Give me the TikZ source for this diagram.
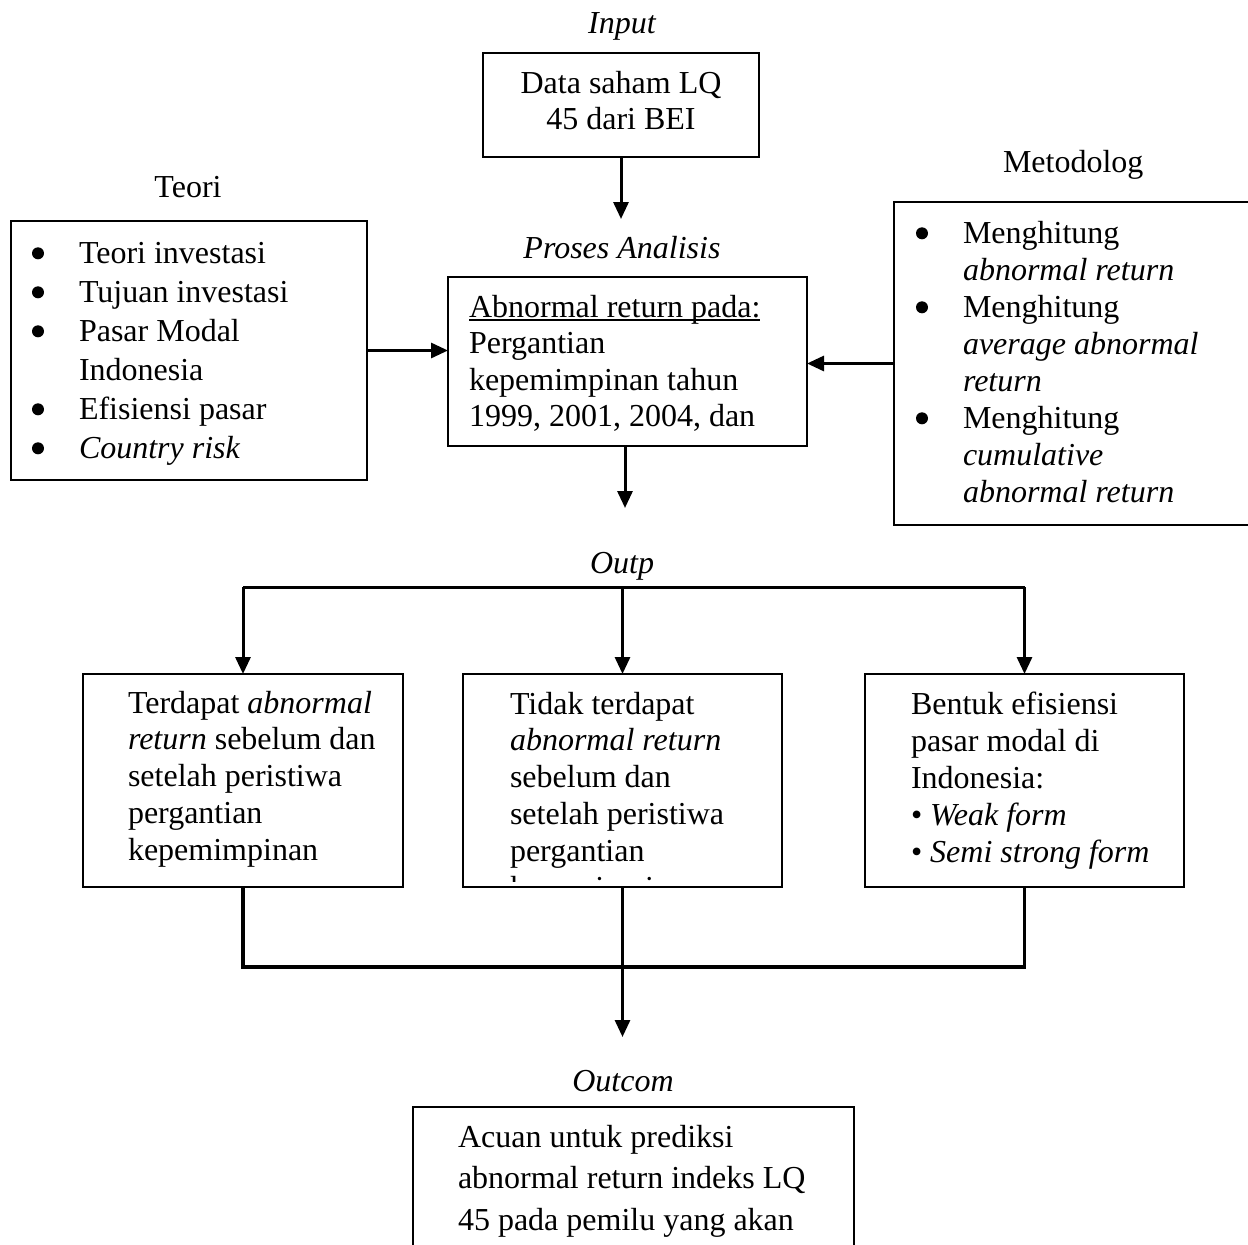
\documentclass[tikz,border=0pt]{standalone}
\usepackage{fontspec}
\setmainfont{Liberation Serif}
\usetikzlibrary{arrows.meta}
\newcommand\ulx[1]{\sbox0{#1}\rlap{\rule[-3.5pt]{\wd0}{1.5pt}}\usebox0}
\begin{document}
\begin{tikzpicture}[x=1pt,y=-1pt,
  box/.style={draw, line width=2pt, inner sep=0pt, outer sep=0pt},
  conn/.style={line width=3pt},
  arr/.style={conn, -{Triangle[length=17pt,width=15pt]}},
  lbl/.style={inner sep=0pt, outer sep=0pt, anchor=base, font=\fontsize{32}{38}\selectfont},
  txt/.style={inner sep=0pt, outer sep=0pt, anchor=base west},
  dot/.style={fill=black, draw=none},
]
\useasboundingbox[fill=white] (0,0) rectangle (1248,1245);

% ---- labels
\node[lbl] (linput) at (622,33) {\itshape Input};
\node[lbl] (lteori) at (188,197) {Teori};
\node[lbl, anchor=base west] (lmetod) at (1003,172) {Metodolog};
\node[lbl] (lproses) at (622,258) {\itshape Proses Analisis};
\node[lbl] (loutp) at (622,573) {\itshape Outp};
\node[lbl] (loutc) at (623,1091) {\itshape Outcom};

% ---- boxes
\node[box, minimum width=276pt, minimum height=104pt] (inbox) at (621,105) {};
\node[box, minimum width=356pt, minimum height=259pt] (teori) at (189,350.5) {};
\node[box, minimum width=359pt, minimum height=169pt] (proses) at (627.5,361.5) {};
\node[box, minimum width=368pt, minimum height=323pt] (metod) at (1078,363.5) {};
\node[box, minimum width=441pt, minimum height=193pt] (outc) at (633.5,1203.5) {};

% ---- box texts
\node[txt, anchor=base, font=\fontsize{32}{36}\selectfont] (tin) at (621,93)
  {\begin{tabular}[t]{@{}c@{}}Data saham LQ\\45 dari BEI\end{tabular}};

\node[txt, font=\fontsize{32}{39}\selectfont] (tteori) at (79,263)
  {\begin{tabular}[t]{@{}l@{}}
   Teori investasi\\
   Tujuan investasi\\
   Pasar Modal\\
   Indonesia\\
   Efisiensi pasar\\
   \textit{Country risk}
   \end{tabular}};
\foreach \yy in {263,302,341,419,458}
  \fill[dot] (38,\yy-9.7) circle (6pt);

\node[txt, font=\fontsize{32}{36.5}\selectfont] (tproses) at (469,317)
  {\begin{tabular}[t]{@{}l@{}}
   \ulx{Abnormal return pada:}\\
   Pergantian\\
   kepemimpinan tahun\\
   1999, 2001, 2004, dan
   \end{tabular}};

\node[txt, font=\fontsize{32}{37}\selectfont] (tmetod) at (963,243)
  {\begin{tabular}[t]{@{}l@{}}
   Menghitung\\
   \textit{abnormal return}\\
   Menghitung\\
   \textit{average abnormal}\\
   \textit{return}\\
   Menghitung\\
   \textit{cumulative}\\
   \textit{abnormal return}
   \end{tabular}};
\foreach \yy in {243,317,428}
  \fill[dot] (922,\yy-9.7) circle (6pt);

\node[txt, font=\fontsize{32}{41.5}\selectfont] (toutc) at (458,1147)
  {\begin{tabular}[t]{@{}l@{}}
   Acuan untuk prediksi\\
   abnormal return indeks LQ\\
   45 pada pemilu yang akan
   \end{tabular}};

% ---- output boxes
\node[box, minimum width=320pt, minimum height=213pt] (b1) at (243,780.5) {};
\node[box, minimum width=319pt, minimum height=213pt] (b2) at (622.5,780.5) {};
\node[box, minimum width=319pt, minimum height=213pt] (b3) at (1024.5,780.5) {};

\node[txt, font=\fontsize{32}{36.8}\selectfont] (tb1) at (128,713)
  {\begin{tabular}[t]{@{}l@{}}
   Terdapat \textit{abnormal}\\
   \textit{return} sebelum dan\\
   setelah peristiwa\\
   pergantian\\
   kepemimpinan
   \end{tabular}};

\begin{scope}
\clip ([shift={(1,1)}]b2.north west) rectangle ([shift={(-1,-6)}]b2.south east);
\node[txt, font=\fontsize{32}{36.8}\selectfont] (tb2) at (510,714)
  {\begin{tabular}[t]{@{}l@{}}
   Tidak terdapat\\
   \textit{abnormal return}\\
   sebelum dan\\
   setelah peristiwa\\
   pergantian\\
   kepemimpinan
   \end{tabular}};
\end{scope}

\node[txt, font=\fontsize{32}{37}\selectfont] (tb3) at (911,714)
  {\begin{tabular}[t]{@{}l@{}}
   Bentuk efisiensi\\
   pasar modal di\\
   Indonesia:\\
   • \textit{Weak form}\\
   • \textit{Semi strong form}
   \end{tabular}};

% ---- connectors
\coordinate (inarr) at (621,219);
\coordinate (prarr) at (625,508);
\coordinate (split) at (622.5,587);
\coordinate (join) at (622.5,967);
\coordinate (outarr) at (622.5,1037);

\draw[arr] (inbox.south) -- (inarr);
\draw[arr] (proses.south -| prarr) -- (prarr);
\draw[arr] (teori.east) -- (teori.east -| proses.west);
\draw[arr] (metod.west) -- (metod.west -| proses.east);

\draw[conn] (b1.north |- split) -- (b3.north |- split);
\draw[arr] (b1.north |- split) -- (b1.north);
\draw[arr] (split) -- (b2.north);
\draw[arr] (b3.north |- split) -- (b3.north);

\draw[conn, line width=3.5pt] (b1.south) -- (b1.south |- join) -- (b3.south |- join) -- (b3.south);
\draw[arr] (b2.south) -- (outarr);
\end{tikzpicture}
\end{document}
